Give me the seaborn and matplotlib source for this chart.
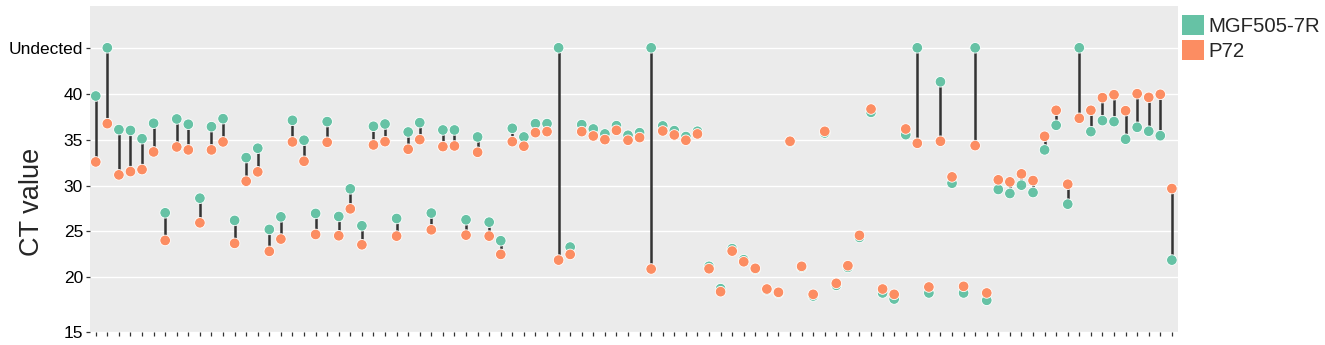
import numpy as np
import pandas as pd
import seaborn as sns
import matplotlib.pyplot as plt
from matplotlib.patches import Patch

# CT values, one per sample (45 = "Undected")
mgf505 = [39.75, 45, 36.09, 36.0, 35.1, 36.78, 27.03, 37.25, 36.67, 28.62,
          36.41, 37.28, 26.2, 33.04, 34.06, 25.22, 26.59, 37.1, 34.93, 26.96,
          36.96, 26.63, 29.64, 25.62, 36.45, 36.7, 26.41, 35.83, 36.85, 27.0,
          36.05, 36.05, 26.27, 35.29, 26.01, 23.99, 36.23, 35.29, 36.74, 36.74,
          45, 23.3, 36.63, 36.16, 35.62, 36.52, 35.47, 35.76, 45, 36.49,
          35.98, 35.33, 35.91, 21.2, 18.77, 23.12, 21.92, 20.9, 18.65, 18.3,
          34.75, 21.1, 17.97, 35.72, 19.13, 21.09, 24.35, 37.97, 18.3, 17.64,
          35.54, 45, 18.3, 41.3, 30.25, 18.3, 45, 17.5, 29.57, 29.13,
          30.04, 29.24, 33.88, 36.56, 27.97, 45, 35.87, 37.07, 36.96, 35.04,
          36.34, 35.91, 35.43, 21.88]
p72 = [32.57, 36.74, 31.16, 31.52, 31.74, 33.66, 24.02, 34.2, 33.88, 25.94,
       33.88, 34.75, 23.7, 30.47, 31.49, 22.83, 24.17, 34.75, 32.64, 24.67,
       34.71, 24.53, 27.46, 23.55, 34.42, 34.78, 24.49, 33.95, 35.0, 25.18,
       34.24, 34.31, 24.6, 33.62, 24.49, 22.5, 34.78, 34.28, 35.76, 35.87,
       21.88, 22.5, 35.87, 35.4, 35.0, 36.01, 34.93, 35.22, 20.91, 35.94,
       35.51, 34.93, 35.62, 20.94, 18.44, 22.86, 21.7, 20.98, 18.73, 18.37,
       34.82, 21.2, 18.15, 35.9, 19.35, 21.27, 24.57, 38.33, 18.73, 18.15,
       36.16, 34.6, 18.95, 34.82, 30.94, 19.02, 34.35, 18.3, 30.62, 30.4,
       31.27, 30.54, 35.36, 38.19, 30.14, 37.32, 38.19, 39.57, 39.89, 38.15,
       40.0, 39.6, 39.93, 29.67]
samples = list(range(len(mgf505)))
genes = ['MGF505-7R', 'P72']
colors = ['#66C2A5', '#FC8D62']
ytick_vals = [14.05, 20, 25, 30, 35, 40, 45]
ytick_labels = ['15', '20', '25', '30', '35', '40', 'Undected']

df = pd.DataFrame({'sample': samples * 2,
                   'ct': mgf505 + p72,
                   'gene': [genes[0]] * len(samples) + [genes[1]] * len(samples)})

sns.set_theme(style='darkgrid', rc={'axes.facecolor': '#EBEBEB',
                                    'grid.color': 'white',
                                    'grid.linewidth': 1.0})
plt.rcParams['font.family'] = ['Liberation Sans', 'DejaVu Sans']

fig = plt.figure(figsize=(13.25, 3.45), dpi=100)
ax = fig.add_axes([0.0679, 0.0377, 0.8209, 0.9449])

# dumbbell segments
ax.vlines(samples, mgf505, p72, color='#333333', linewidth=1.8, zorder=2)

sns.scatterplot(data=df, x='sample', y='ct', hue='gene',
                palette=dict(zip(genes, colors)), s=58,
                edgecolor='white', linewidth=0.6, legend=False,
                zorder=3, ax=ax)

ax.set_xlim(-0.5, len(samples) - 0.5)
ax.set_ylim(14.05, 49.55)
ax.set_xticks(samples)
ax.set_xticklabels([])
ax.set_yticks(ytick_vals)
ax.set_yticklabels(ytick_labels, fontsize=12.5, color='black')
ax.grid(axis='x', visible=False)
ax.tick_params(axis='both', length=3, width=0.9, color='#333333', pad=2,
               bottom=True, left=True)
ax.set_xlabel('')
ax.set_ylabel('CT value', fontsize=19.5)
ax.yaxis.set_label_coords(-0.041, 0.40)
for s in ax.spines.values():
    s.set_visible(False)

handles = [Patch(facecolor=c, edgecolor='none') for c in colors]
ax.legend(handles, genes, loc='upper left', bbox_to_anchor=(1.004, 0.972),
          frameon=False, fontsize=14.7, handlelength=1.1, handleheight=1.1,
          handletextpad=0.2, labelspacing=0.22, borderaxespad=0.0,
          borderpad=0.0)

fig.savefig('out.png', dpi=100)
